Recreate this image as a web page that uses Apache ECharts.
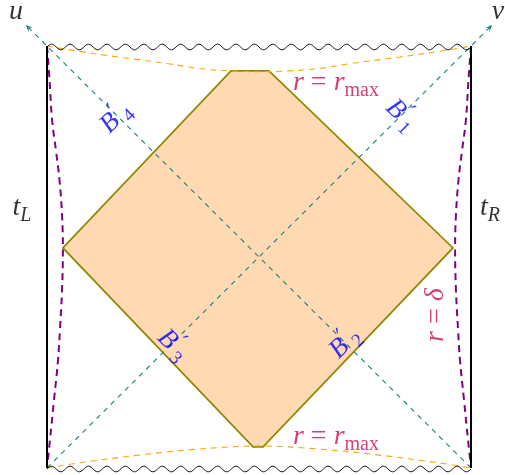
<!DOCTYPE html>
<html><head><meta charset="utf-8">
<script src="https://cdn.jsdelivr.net/npm/echarts@6/dist/echarts.min.js"></script>
<style>html,body{margin:0;padding:0;background:#fff}#c{width:505px;height:475px}</style>
</head><body><div id="c"></div>
<script>
// ---- data (Penrose-like coordinates, square = [-1,1] x [-1,1]) ----
const regionX = [-0.925, -0.132, 0.047, 0.915, 0.019, -0.028];
const regionY = [0.043, 0.882, 0.882, 0.043, -0.900, -0.900];

const rmaxTopX = [-1, -0.85, -0.665, -0.42, -0.28, -0.14, 0, 0.14, 0.28, 0.42, 0.665, 0.85, 1];
const rmaxTopY = [1, 0.975, 0.948, 0.915, 0.893, 0.882, 0.878, 0.882, 0.893, 0.915, 0.948, 0.975, 1];
const rmaxBotX = [-1, -0.85, -0.56, -0.28, 0, 0.28, 0.56, 0.85, 1];
const rmaxBotY = [-1, -0.976, -0.938, -0.910, -0.896, -0.910, -0.938, -0.976, -1];

const deltaLeftX = [-1, -0.988, -0.976, -0.958, -0.941, -0.929, -0.925, -0.929, -0.939, -0.948, -0.967, -0.986, -1];
const deltaY = [1, 0.839, 0.649, 0.507, 0.365, 0.199, 0.043, -0.156, -0.346, -0.488, -0.678, -0.867, -1];
const deltaRightX = deltaLeftX.map(v => -v);

const nullRays = [[1, -1, -1.1, 1.1], [-1, -1, 1.1, 1.1]];   // u-ray, v-ray (start -> arrow tip)
const boundaryL = [[-1, -1], [-1, 1]];
const boundaryR = [[1, -1], [1, 1]];
const singularities = [[-1, 1, 1, 1], [-1, -1, 1, -1]];

const labelText = ['{m|u}', '{m|v}', '{m|t}{subi|L}', '{m|t}{subi|R}',
  '{m|r}{r| = }{m|r}{sub|max}', '{m|r}{r| = }{m|r}{sub|max}', '{m|r}{r| = }{m|δ}',
  '{m|B}{pr|′}{sub|4}', '{m|B}{pr|′}{sub|1}', '{m|B}{pr|′}{sub|3}', '{m|B}{pr|′}{sub|2}'];
const labelX = [-1.146, 1.127, -1.118, 1.090, 0.363, 0.363, 0.835, -0.675, 0.670, -0.406, 0.406];
const labelY = [1.161, 1.161, 0.232, 0.232, 0.825, -0.853, -0.275, 0.659, 0.673, -0.417, -0.408];
const labelRot = [0, 0, 0, 0, 0, 0, 90, 45, -45, -45, 45];
const labelKind = ['k', 'k', 'k', 'k', 'r', 'r', 'r', 'b', 'b', 'b', 'b'];

// ---- styles ----
const F = 'Liberation Serif';
const COLORS = { k: '#000000', r: '#C8104F', b: '#0000FF' };
function richFor(color, big) {
  const s = big ? 28 : 27;
  return {
    m: { fontFamily: F, fontStyle: 'italic', fontSize: s, lineHeight: s + 8, color },
    r: { fontFamily: F, fontSize: s, lineHeight: s + 8, color },
    sub: { fontFamily: F, fontSize: Math.round(s * 0.72), lineHeight: Math.round(s * 0.72), verticalAlign: 'bottom', color },
    subi: { fontFamily: F, fontStyle: 'italic', fontSize: Math.round(s * 0.72), lineHeight: Math.round(s * 0.72), verticalAlign: 'bottom', color },
    pr: { fontFamily: 'DejaVu Sans', fontSize: Math.round(s * 0.9), lineHeight: Math.round(s * 0.9), verticalAlign: 'top', width: 6, color }
  };
}
const zip = (a, b) => a.map((v, i) => [v, b[i]]);

function polygonRender(params, api) {
  const pts = regionX.map((x, i) => api.coord([x, regionY[i]]));
  return {
    type: 'polygon', shape: { points: pts },
    style: { fill: '#FFD9B2', stroke: '#8f8700', lineWidth: 1.7 }
  };
}
function rayRender(params, api) {
  const a = api.coord([api.value(0), api.value(1)]);
  const b = api.coord([api.value(2), api.value(3)]);
  const dx = b[0] - a[0], dy = b[1] - a[1], L = Math.hypot(dx, dy);
  const ux = dx / L, uy = dy / L, len = 7, hw = 3;
  const base = [b[0] - ux * len, b[1] - uy * len];
  return {
    type: 'group', children: [
      { type: 'line', shape: { x1: a[0], y1: a[1], x2: b[0] - ux * 2, y2: b[1] - uy * 2 },
        style: { stroke: '#168080', lineWidth: 1.1, lineDash: [5, 5] } },
      { type: 'polygon', shape: { points: [b, [base[0] - uy * hw, base[1] + ux * hw], [b[0] - ux * len * 0.6, b[1] - uy * len * 0.6], [base[0] + uy * hw, base[1] - ux * hw]] },
        style: { fill: '#168080' } }
    ]
  };
}
function waveRender(params, api) {
  const p1 = api.coord([api.value(0), api.value(1)]);
  const p2 = api.coord([api.value(2), api.value(3)]);
  const periods = 23, amp = 2.8, steps = 460;
  const pts = [];
  for (let i = 0; i <= steps; i++) {
    const t = i / steps;
    pts.push([p1[0] + (p2[0] - p1[0]) * t,
              p1[1] + 1 - amp * Math.sin(2 * Math.PI * periods * t)]);
  }
  return { type: 'polyline', shape: { points: pts }, style: { stroke: '#000', lineWidth: 1, fill: null } };
}

const chart = echarts.init(document.getElementById('c'), null, { renderer: 'canvas' });
chart.setOption({
  animation: false,
  grid: { left: 47, right: 34, top: 46, bottom: 7 },
  xAxis: { type: 'value', min: -1, max: 1, show: false },
  yAxis: { type: 'value', min: -1, max: 1, show: false },
  series: [
    { type: 'custom', renderItem: polygonRender, data: [[regionX[0], regionY[0]]], clip: false, z: 1, silent: true },
    { type: 'custom', renderItem: rayRender, data: nullRays, encode: { x: [0, 2], y: [1, 3] }, clip: false, z: 2, silent: true },
    { type: 'line', data: zip(rmaxTopX, rmaxTopY), smooth: 0.4, symbol: 'none', clip: false, z: 4,
      lineStyle: { color: '#FFA500', width: 1.1, type: [6, 5] } },
    { type: 'line', data: zip(rmaxBotX, rmaxBotY), smooth: 0.4, symbol: 'none', clip: false, z: 4,
      lineStyle: { color: '#FFA500', width: 1.1, type: [6, 5] } },
    { type: 'line', data: zip(deltaLeftX, deltaY), smooth: 0.4, symbol: 'none', clip: false, z: 4,
      lineStyle: { color: '#800080', width: 2, type: [7, 5] } },
    { type: 'line', data: zip(deltaRightX, deltaY), smooth: 0.4, symbol: 'none', clip: false, z: 4,
      lineStyle: { color: '#800080', width: 2, type: [7, 5] } },
    { type: 'line', data: boundaryL, symbol: 'none', clip: false, z: 5, lineStyle: { color: '#000', width: 2 } },
    { type: 'line', data: boundaryR, symbol: 'none', clip: false, z: 5, lineStyle: { color: '#000', width: 2 } },
    { type: 'custom', renderItem: waveRender, data: singularities, encode: { x: [0, 2], y: [1, 3] }, clip: false, z: 5, silent: true },
    { type: 'scatter', symbolSize: 0, clip: false, z: 10, silent: true,
      label: { show: true, position: 'inside', formatter: p => labelText[p.dataIndex] },
      data: labelX.map((x, i) => ({
        value: [x, labelY[i]],
        label: { rotate: labelRot[i], rich: richFor(COLORS[labelKind[i]], labelKind[i] !== 'b') }
      })) }
  ]
});
</script>
</body></html>
